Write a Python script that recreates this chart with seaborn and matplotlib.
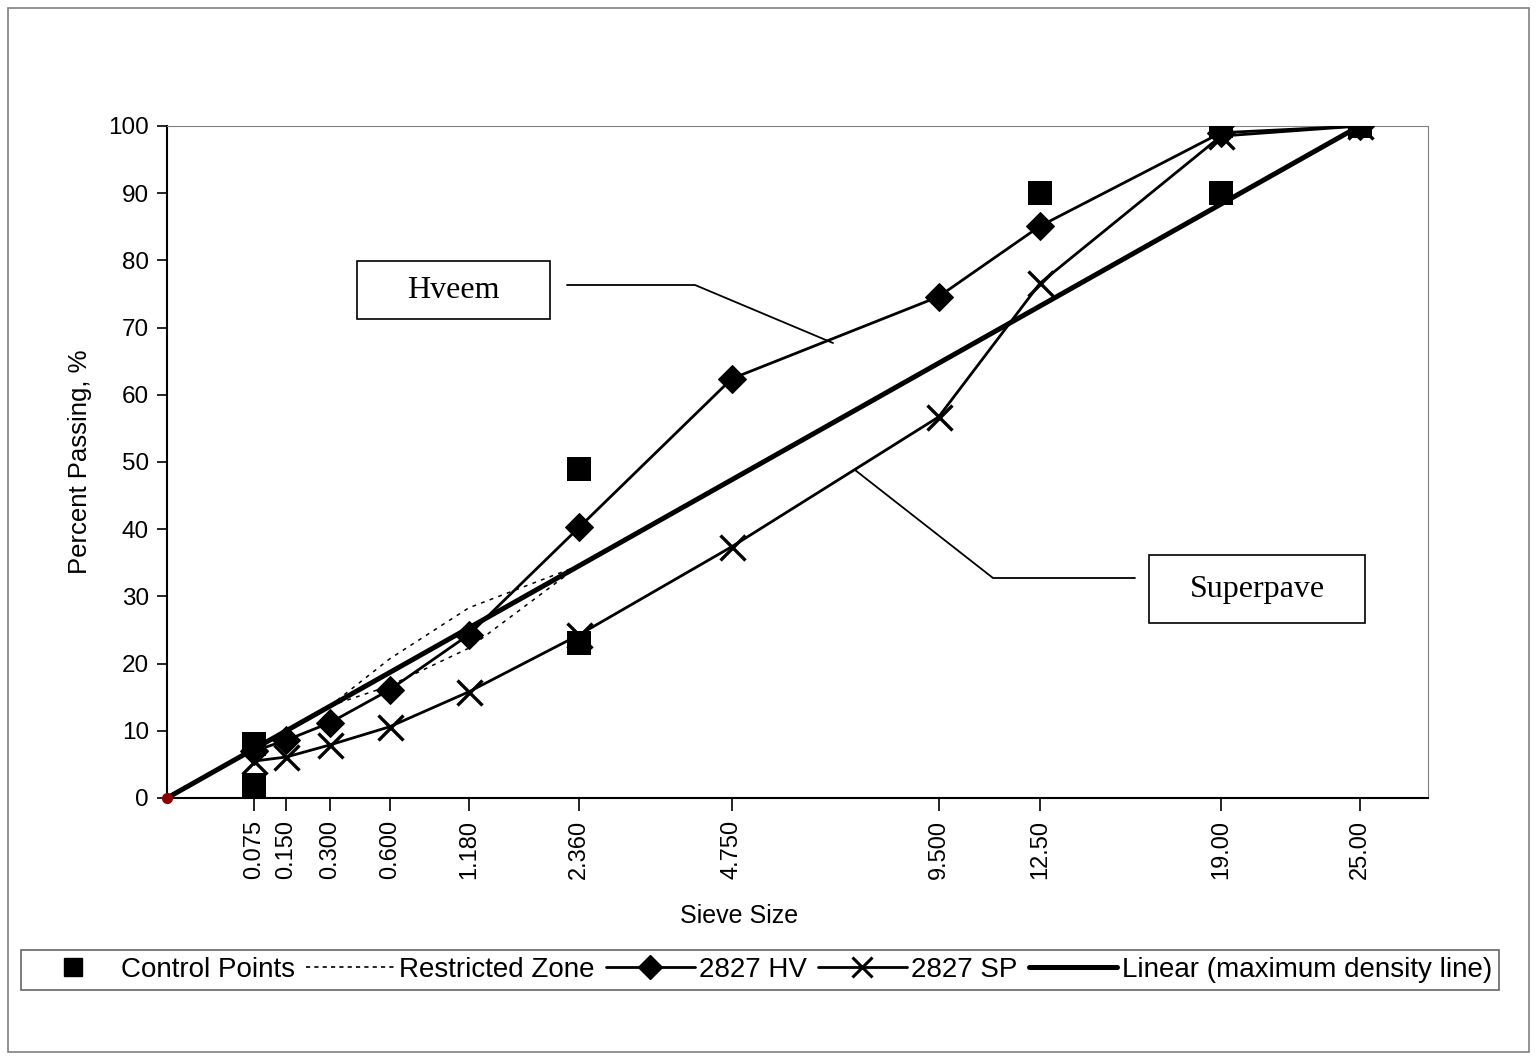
import matplotlib
matplotlib.use("Agg")
import matplotlib.pyplot as plt
import numpy as np
import pandas as pd
import seaborn as sns
from matplotlib.lines import Line2D
from matplotlib.patches import Rectangle

# sieve sizes in mm, plotted on a 0.45 power scale
SIEVES = [0.075, 0.150, 0.300, 0.600, 1.180, 2.360, 4.750, 9.500, 12.50, 19.00, 25.00]
TICK_LABELS = ["0.075", "0.150", "0.300", "0.600", "1.180", "2.360",
               "4.750", "9.500", "12.50", "19.00", "25.00"]

HV_PASS = [7.0, 8.6, 11.2, 16.1, 24.3, 40.3, 62.4, 74.6, 85.1, 99.0, 100.0]
SP_PASS = [5.5, 6.1, 7.9, 10.6, 15.8, 24.3, 37.4, 56.7, 76.6, 98.5, 100.0]

CTRL_SIZE = [0.075, 0.075, 2.360, 2.360, 12.50, 19.00, 19.00, 25.00]
CTRL_PASS = [2.0, 8.0, 23.0, 49.0, 90.0, 90.0, 100.0, 100.0]

RZ_SIZE = [0.300, 0.600, 1.180, 2.360]
RZ_UPPER = [13.7, 20.7, 28.3, 34.6]
RZ_LOWER = [13.7, 16.7, 22.3, 34.6]

MDL_SIZE = [0.0, 25.0]
MDL_PASS = [0.0, 100.0]

sns.set_style("white")
plt.rcParams["font.family"] = ["Liberation Sans", "DejaVu Sans"]
for key in ("text.color", "axes.labelcolor", "xtick.color", "ytick.color"):
    plt.rcParams[key] = "black"

fig = plt.figure(figsize=(15.37, 10.56), dpi=100)
ax = fig.add_axes([167 / 1537, 1 - 798 / 1056, (1428 - 167) / 1537, (798 - 126) / 1056])

ax.set_xscale("function", functions=(lambda x: np.power(np.clip(x, 0, None), 0.45),
                                     lambda x: np.power(np.clip(x, 0, None), 1 / 0.45)))

hv = pd.DataFrame({"size": SIEVES, "pass": HV_PASS})
sp = pd.DataFrame({"size": SIEVES, "pass": SP_PASS})
ctrl = pd.DataFrame({"size": CTRL_SIZE, "pass": CTRL_PASS})

# maximum density line
sns.lineplot(x=MDL_SIZE, y=MDL_PASS, ax=ax, color="black", lw=3.6, zorder=3)

# restricted zone
for lim in (RZ_UPPER, RZ_LOWER):
    sns.lineplot(x=RZ_SIZE, y=lim, ax=ax, color="black", lw=1.1,
                 linestyle=(0, (2.5, 3.5)), zorder=2)

sns.lineplot(data=hv, x="size", y="pass", ax=ax, color="black", lw=2,
             marker="D", markersize=14, markeredgecolor="black", zorder=4)
sns.lineplot(data=sp, x="size", y="pass", ax=ax, color="black", lw=2,
             marker="x", markersize=18, markeredgewidth=2.4,
             markeredgecolor="black", zorder=4)
sns.scatterplot(data=ctrl, x="size", y="pass", ax=ax, color="black", marker="s",
                s=290, linewidth=0, zorder=5)
ax.plot([0], [0], "o", color="#8b0000", markersize=7, zorder=6, clip_on=False)

ax.set_xlim(0, 28.3)
ax.set_ylim(0, 100)
ax.set_xticks(SIEVES)
ax.set_xticklabels(TICK_LABELS, rotation=90, fontsize=17)
ax.set_yticks(np.arange(0, 101, 10))
ax.tick_params(axis="y", labelsize=17.5, direction="out", length=7, width=1.2, left=True, pad=6)
ax.tick_params(axis="x", direction="out", length=9, width=1.2, bottom=True, pad=7)
ax.minorticks_off()
ax.set_xlabel("Sieve Size", fontsize=18, labelpad=18, x=0.4536)
ax.set_ylabel("Percent Passing, %", fontsize=18.5, labelpad=12)
for side in ("top", "right"):
    ax.spines[side].set_color("#808080")
for side in ("left", "bottom"):
    ax.spines[side].set_color("black")
    ax.spines[side].set_linewidth(1.5)
if ax.get_legend():
    ax.get_legend().remove()

# callout boxes
serif = ["Liberation Serif", "DejaVu Serif"]
for (x0, y0, w, h, txt) in [(357, 261, 193, 58, "Hveem"), (1149, 555, 216, 68, "Superpave")]:
    fig.patches.append(Rectangle((x0 / 1537, 1 - (y0 + h) / 1056), w / 1537, h / 1056,
                                 transform=fig.transFigure, fill=False, ec="black", lw=1.2))
    fig.text((x0 + w / 2) / 1537, 1 - (y0 + h / 2) / 1056, txt, family=serif,
             fontsize=23, ha="center", va="center")
for pts in ([(567, 285), (695, 285), (833, 343)], [(1135, 578), (993, 578), (855, 470)]):
    xs = [p[0] / 1537 for p in pts]
    ys = [1 - p[1] / 1056 for p in pts]
    fig.lines.append(Line2D(xs, ys, transform=fig.transFigure, color="black", lw=1.3))

# legend
handles = [
    Line2D([], [], color="black", marker="s", linestyle="none", markersize=13),
    Line2D([], [], color="black", lw=1.2, linestyle=(0, (2.5, 2.5))),
    Line2D([], [], color="black", lw=2, marker="D", markersize=12),
    Line2D([], [], color="black", lw=2, marker="x", markersize=15, markeredgewidth=2.2),
    Line2D([], [], color="black", lw=3.6),
]
labels = ["Control Points", "Restricted Zone", "2827 HV", "2827 SP",
          "Linear (maximum density line)"]
leg = fig.legend(handles, labels, loc="center", ncol=5, fontsize=20,
                 bbox_to_anchor=(760 / 1537, 1 - 970 / 1056), frameon=True,
                 fancybox=False, handlelength=3.2, handletextpad=0.15,
                 columnspacing=0.4, borderpad=0.25)
leg.get_frame().set_edgecolor("#404040")
leg.get_frame().set_linewidth(1.2)

# outer chart border
fig.patches.append(Rectangle((8 / 1537, 4 / 1056), 1521 / 1537, 1044 / 1056,
                             transform=fig.transFigure, fill=False, ec="#808080", lw=1.2))

fig.savefig("out.png", dpi=100)
